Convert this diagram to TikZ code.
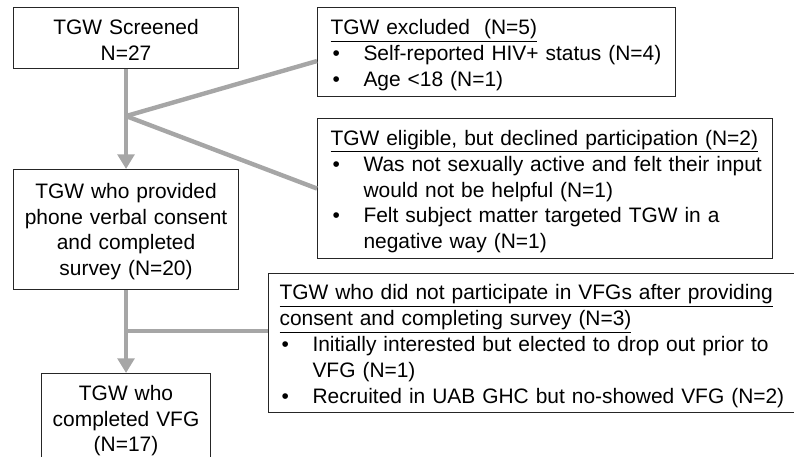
\documentclass[tikz,border=0pt]{standalone}
\usepackage{fontspec}
\setmainfont{Liberation Sans}
\usepackage{tikz}
\usetikzlibrary{arrows.meta}
\usetikzlibrary{positioning, calc}

\definecolor{flowgray}{RGB}{166,166,166}
\newcommand{\flowfont}{\fontsize{15.7pt}{19.4pt}\selectfont\hyphenpenalty=10000\relax}
\newcommand{\bul}{\makebox[24.75pt][l]{\hspace{1.5pt}\textbullet}}
\newcommand{\ind}{\hspace*{24.75pt}}

\tikzset{
  stage/.style={draw=black!85, line width=0.8pt, align=center, inner xsep=4pt, inner ysep=0pt, font=\flowfont, anchor=north west,
    execute at begin node={\rule{0pt}{14.5pt}}},
  note/.style={draw=black!85, line width=0.8pt, align=left, inner xsep=0pt, inner ysep=0pt, font=\flowfont, anchor=north west,
    execute at begin node={\leftskip=#1\relax\rule{0pt}{16pt}}},
  note/.default=9.75pt,
  flow/.style={draw=flowgray, line width=3.3pt},
  tip/.style={-{Triangle[width=12.5pt, length=11pt]}, fill=flowgray}
}

\begin{document}
\begin{tikzpicture}[x=0.75pt, y=-0.75pt]
\path [use as bounding box, clip] (0,0) rectangle (794,457);

% main column
\node (screened) at (13,7) [stage, text width=160.75pt, minimum height=45.75pt] {TGW Screened\\N=27};
\node (consent) at (13,169) [stage, text width=160.75pt, minimum height=90pt] {TGW who provided\\phone verbal consent\\and completed\\survey (N=20)};
\node (vfg) at (41,373) [stage, text width=118.75pt, minimum height=67.5pt] {TGW who\\completed VFG\\(N=17)};

% side boxes
\node (excl) at (317,7) [note, text width=268.5pt, minimum height=66.75pt] {\underline{TGW excluded\ \ (N=5)}\\
\bul Self-reported HIV+ status (N=4)\\
\bul Age <18 (N=1)};
\node (elig) at (317,118) [note, text width=341.25pt, minimum height=105pt] {\underline{TGW eligible, but declined participation (N=2)}\\
\bul Was not sexually active and felt their input\\
\ind would not be helpful (N=1)\\
\bul Felt subject matter targeted TGW in a\\
\ind negative way (N=1)};
\node (nonpart) at (268,273) [note=8.25pt, text width=397.5pt, minimum height=104.25pt] {\underline{TGW who did not participate in VFGs after providing}\\
\underline{consent and completing survey (N=3)}\\
\bul Initially interested but elected to drop out prior to\\
\ind VFG (N=1)\\
\bul Recruited in UAB GHC but no-showed VFG (N=2)};

\coordinate (fork1) at ($(screened.south)+(0,47)$);
\coordinate (fork2) at ($(consent.south)+(0,41)$);

\draw [flow, tip] (screened) -- (consent);
\draw [flow] (fork1) -- ($(excl.west)+(0,9)$);
\draw [flow] (fork1) -- (elig.west);

\draw [flow, tip] (consent) -- (vfg);
\draw [flow] (fork2) -- (fork2 -| nonpart.west);

\end{tikzpicture}
\end{document}
